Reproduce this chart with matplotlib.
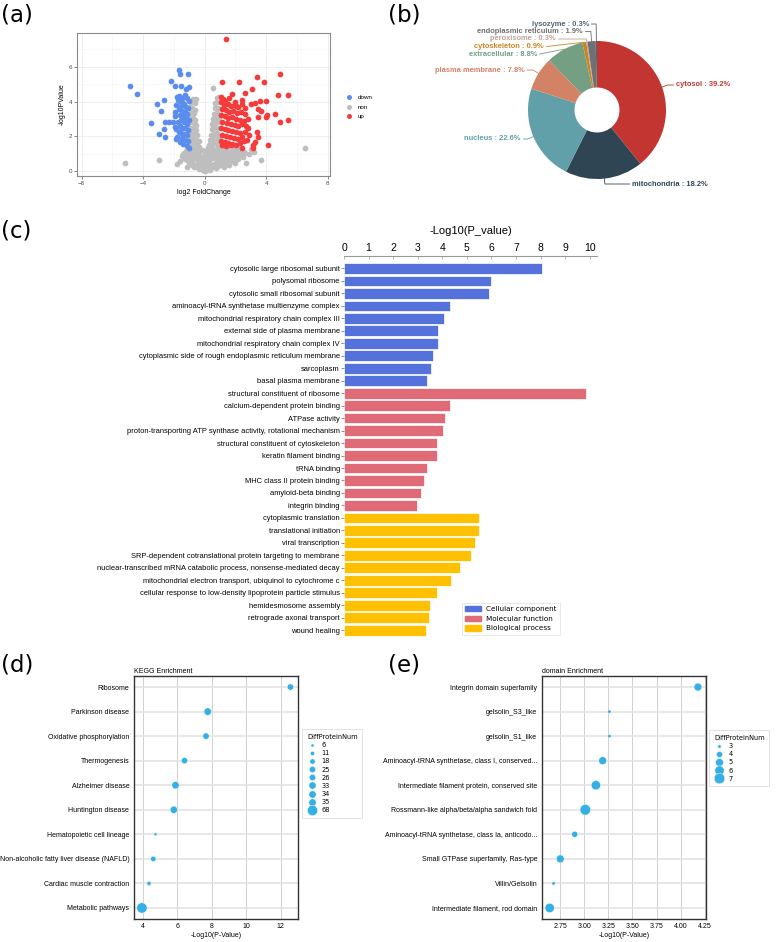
import numpy as np
import matplotlib
matplotlib.use("Agg")
import matplotlib.pyplot as plt
from matplotlib.lines import Line2D
from matplotlib.patches import Patch

plt.rcParams['font.family'] = ['Liberation Sans', 'DejaVu Sans']

# -------------------------
# (a) volcano data
# -------------------------
up_x = [1.41, 1.15, 2.26, 3.41, 3.89, 4.88, 3.06, 2.63, 1.80, 4.75, 5.40, 3.58, 3.97, 3.26, 3.04,
        2.45, 2.06, 3.49, 3.65, 4.06, 3.97, 4.58, 4.91, 5.40, 3.45, 2.84, 3.41, 3.49, 3.26, 3.13,
        4.12, 2.45, 3.15,
        1.05, 1.20, 1.35, 1.05, 1.25, 1.50, 1.70, 1.95, 2.20, 2.40, 1.10, 1.40, 1.60, 1.85, 2.10,
        2.35, 2.60, 1.05, 1.30, 1.55, 1.80, 2.05, 2.30, 2.55, 2.80, 1.15, 1.45, 1.70, 1.95, 2.20,
        2.45, 2.70, 1.05, 1.30, 1.55, 1.80, 2.05, 2.30, 2.60, 1.15, 1.40, 1.65, 1.90, 2.15, 2.40,
        1.05, 1.30, 1.55, 1.80, 2.05, 2.30, 2.55, 1.10, 1.40, 1.70, 2.75, 2.90, 2.00, 2.60, 1.60]
up_y = [7.59, 5.12, 5.10, 5.42, 5.12, 5.60, 4.72, 4.50, 4.43, 4.37, 4.37, 4.03, 4.04, 3.93, 3.83,
        4.08, 3.74, 3.57, 3.47, 3.24, 3.11, 3.26, 2.82, 2.93, 3.09, 2.45, 2.24, 1.94, 1.65, 1.51,
        1.48, 1.32, 1.34,
        4.25, 4.15, 4.05, 3.95, 3.80, 3.85, 3.75, 3.80, 3.70, 3.85, 3.55, 3.50, 3.40, 3.45, 3.35,
        3.40, 3.30, 3.20, 3.15, 3.05, 3.10, 3.00, 2.95, 2.90, 3.00, 2.85, 2.75, 2.70, 2.65, 2.60,
        2.70, 2.60, 2.50, 2.40, 2.35, 2.30, 2.25, 2.20, 2.25, 2.10, 2.00, 1.95, 1.90, 1.85, 1.95,
        1.75, 1.65, 1.60, 1.55, 1.50, 1.60, 1.70, 1.48, 1.46, 1.47, 1.80, 2.10, 4.00, 3.60, 4.20]

down_x = [-4.88, -4.38, -1.67, -1.58, -1.11, -2.21, -1.93, -1.54, -1.02, -1.22, -2.65, -3.10,
          -2.82, -3.47, -2.60, -2.32, -2.06, -2.63, -3.00, -2.56, -1.85, -1.87, -1.95,
          -1.80, -1.70, -1.60, -1.50, -1.75, -1.62, -1.45, -1.30, -1.15, -1.05, -1.85, -1.55,
          -1.35, -1.20, -1.08, -1.70, -1.48, -1.28, -1.12, -1.62, -1.90, -1.40, -1.22, -1.05,
          -1.55, -1.75, -1.35, -1.15, -1.60, -1.45, -1.25, -1.08, -1.70, -1.52, -1.32, -1.15,
          -1.45, -1.25, -1.08, -1.60, -1.38, -1.18, -1.05, -1.80, -1.95]
down_y = [4.87, 4.45, 5.81, 5.56, 5.56, 5.18, 4.91, 4.89, 4.81, 4.75, 4.08, 3.87,
          3.43, 2.78, 2.80, 2.82, 2.82, 2.43, 2.11, 1.94, 2.40, 1.84, 2.55,
          4.25, 4.30, 4.28, 4.20, 4.10, 4.05, 4.00, 4.35, 4.20, 4.05, 3.80, 3.75,
          3.85, 3.70, 3.60, 3.55, 3.45, 3.40, 3.30, 3.25, 3.15, 3.15, 3.05, 2.95,
          2.95, 2.85, 2.80, 2.70, 2.60, 2.50, 2.45, 2.35, 2.25, 2.20, 2.15, 2.05,
          1.90, 1.80, 1.70, 1.65, 1.55, 1.45, 1.35, 1.95, 3.40]

non_x = [0.00, 0.05, -0.08, 0.15, -0.20, 0.25, -0.30, 0.35, -0.40, 0.50, -0.55, 0.60, -0.70,
         0.75, -0.85, 0.90, -1.00, 1.10, -1.15, 1.25, 1.40, -1.30, 1.60, 1.80, 2.00, 2.20,
         -0.15, 0.10, 0.30, -0.45, 0.45, -0.60, 0.70, -0.80, 0.95, 1.20, 1.45, 1.70, 1.95,
         2.30, 2.50, 2.71, 2.89, 3.00, 3.20, 3.67, -0.25, 0.20, -0.50, 0.55, -0.70, 0.80,
         -0.95, 1.00, -1.02, -1.22, -1.40, -1.60, -1.80, 1.30, 1.55, 2.10, 2.40, 2.60,
         -5.17, -3.00, 6.53,
         -0.90, -0.70, -0.50, -0.35, -0.95, -0.75, -0.55, -0.40, -0.90, -0.70, -0.50, -0.95,
         -0.75, -0.55, -0.90, -0.70, -0.55, -0.95, -0.75, -0.60, -0.90, -0.70, -0.95, -0.80,
         -0.90, -0.76, -0.54, -0.65, -0.60,
         0.30, 0.50, 0.70, 0.90, 0.35, 0.55, 0.75, 0.95, 0.40, 0.60, 0.80, 0.45, 0.65, 0.85,
         0.50, 0.70, 0.90, 0.55, 0.75, 0.95, 0.60, 0.80, 0.65, 0.85, 0.70, 0.90, 0.80, 0.56,
         0.95, 0.20, 0.15, -0.20,
         -0.10, 0.10, -0.45, 0.40, -0.60, -0.30, 0.00, 0.30, 0.55, 0.80, 1.05, 1.35,
         -1.10, -0.85, -0.30, 0.00, 0.25, 0.80, 1.00, 1.25, 1.55, 1.75,
         -1.20, -0.95, -0.35, 0.00, 0.25, 0.60, 1.00, 1.35, 1.60, 1.90, 2.10,
         -1.10, -0.70, -0.40, 0.00, 0.40, 0.75, 1.00, 1.65, 2.15,
         -0.85, -0.45, 0.00, 0.35, 0.65, 0.90, 1.20, 1.50, 1.80, 2.00, 2.25,
         2.35, 2.55, 1.90, -1.35, -1.50, 0.45, -0.45, 0.85, -0.65]
non_y = [0.00, 0.15, 0.20, 0.10, 0.12, 0.30, 0.25, 0.05, 0.10, 0.20, 0.30, 0.40, 0.20,
         0.15, 0.35, 0.30, 0.50, 0.45, 0.20, 0.25, 0.55, 0.70, 0.35, 0.60, 0.45, 0.70,
         0.45, 0.50, 0.60, 0.55, 0.75, 0.75, 0.85, 0.90, 0.70, 0.90, 1.00, 0.85, 1.05,
         0.95, 0.82, 0.44, 0.98, 1.25, 1.07, 0.63, 0.80, 0.90, 1.00, 1.10, 1.20, 1.25,
         1.30, 1.35, 1.13, 1.17, 0.95, 0.60, 0.40, 1.30, 1.25, 1.30, 1.20, 1.05,
         0.48, 0.65, 1.30,
         1.60, 1.55, 1.50, 1.40, 1.90, 1.85, 1.80, 1.70, 2.20, 2.15, 2.05, 2.50,
         2.45, 2.35, 2.80, 2.75, 2.65, 3.10, 3.05, 2.95, 3.40, 3.35, 3.70, 3.65,
         4.00, 4.16, 4.12, 3.90, 3.50,
         1.50, 1.55, 1.60, 1.60, 1.80, 1.85, 1.90, 1.95, 2.10, 2.15, 2.20, 2.40, 2.45, 2.50,
         2.70, 2.75, 2.80, 3.00, 3.05, 3.10, 3.30, 3.35, 3.60, 3.65, 3.90, 3.95, 4.20, 4.77,
         4.25, 1.30, 1.10, 1.20,
         0.05, 0.05, 0.20, 0.20, 0.35, 0.35, 0.35, 0.35, 0.35, 0.35, 0.35, 0.35,
         0.55, 0.55, 0.55, 0.55, 0.55, 0.55, 0.55, 0.55, 0.55, 0.55,
         0.75, 0.75, 0.75, 0.75, 0.75, 0.75, 0.75, 0.75, 0.75, 0.75, 0.75,
         0.95, 0.95, 0.95, 0.95, 0.95, 0.95, 0.95, 0.95, 0.95,
         1.15, 1.15, 1.15, 1.15, 1.15, 1.15, 1.15, 1.15, 1.15, 1.15, 1.15,
         1.25, 1.10, 1.25, 1.05, 0.85, 1.40, 1.35, 1.45, 1.45]

# -------------------------
# (b) subcellular location
# -------------------------
loc_names = ['cytosol', 'mitochondria', 'nucleus', 'plasma membrane', 'extracellular',
             'cytoskeleton', 'peroxisome', 'endoplasmic reticulum', 'lysozyme']
loc_pct = [39.2, 18.2, 22.6, 7.8, 8.8, 0.9, 0.3, 1.9, 0.3]
loc_colors = ['#c23531', '#2f4554', '#61a0a8', '#d48265', '#749f83',
              '#ca8622', '#bda29a', '#6e7074', '#546570']

# -------------------------
# (c) GO enrichment
# -------------------------
cc_terms = ['cytosolic large ribosomal subunit', 'polysomal ribosome',
            'cytosolic small ribosomal subunit', 'aminoacyl-tRNA synthetase multienzyme complex',
            'mitochondrial respiratory chain complex III', 'external side of plasma membrane',
            'mitochondrial respiratory chain complex IV',
            'cytoplasmic side of rough endoplasmic reticulum membrane', 'sarcoplasm',
            'basal plasma membrane']
cc_vals = [8.08, 5.98, 5.92, 4.33, 4.06, 3.81, 3.81, 3.62, 3.54, 3.36]
mf_terms = ['structural constituent of ribosome', 'calcium-dependent protein binding',
            'ATPase activity', 'proton-transporting ATP synthase activity, rotational mechanism',
            'structural constituent of cytoskeleton', 'keratin filament binding', 'tRNA binding',
            'MHC class II protein binding', 'amyloid-beta binding', 'integrin binding']
mf_vals = [9.85, 4.31, 4.11, 4.04, 3.80, 3.77, 3.37, 3.25, 3.13, 2.97]
bp_terms = ['cytoplasmic translation', 'translational initiation', 'viral transcription',
            'SRP-dependent cotranslational protein targeting to membrane',
            'nuclear-transcribed mRNA catabolic process, nonsense-mediated decay',
            'mitochondrial electron transport, ubiquinol to cytochrome c',
            'cellular response to low-density lipoprotein particle stimulus',
            'hemidesmosome assembly', 'retrograde axonal transport', 'wound healing']
bp_vals = [5.48, 5.48, 5.32, 5.18, 4.73, 4.35, 3.80, 3.50, 3.47, 3.33]
go_groups = ['Cellular component', 'Molecular function', 'Biological process']
go_colors = ['#5572dc', '#e06a76', '#ffc000']

# -------------------------
# (d) KEGG, (e) domain
# -------------------------
kegg_terms = ['Ribosome', 'Parkinson disease', 'Oxidative phosphorylation', 'Thermogenesis',
              'Alzheimer disease', 'Huntington disease', 'Hematopoietic cell lineage',
              'Non-alcoholic fatty liver disease (NAFLD)', 'Cardiac muscle contraction',
              'Metabolic pathways']
kegg_val = [12.56, 7.76, 7.66, 6.41, 5.89, 5.79, 4.73, 4.60, 4.35, 3.94]
kegg_num = [25, 35, 26, 25, 34, 33, 6, 18, 11, 68]

dom_terms = ['Integrin domain superfamily', 'gelsolin_S3_like', 'gelsolin_S1_like',
             'Aminoacyl-tRNA synthetase, class I, conserved...',
             'Intermediate filament protein, conserved site',
             'Rossmann-like alpha/beta/alpha sandwich fold',
             'Aminoacyl-tRNA synthetase, class Ia, anticodo...',
             'Small GTPase superfamily, Ras-type', 'Villin/Gelsolin',
             'Intermediate filament, rod domain']
dom_val = [4.18, 3.26, 3.26, 3.19, 3.12, 3.01, 2.90, 2.75, 2.68, 2.64]
dom_num = [5, 3, 3, 5, 6, 7, 4, 5, 3, 6]

# -------------------------
# figure helpers
# -------------------------
W, H = 778, 942
fig = plt.figure(figsize=(W / 100, H / 100), dpi=100)


def box(l, t, r, b):
    return fig.add_axes([l / W, 1 - b / H, (r - l) / W, (b - t) / H])


def panel_label(x, y, s):
    fig.text(x / W, 1 - y / H, s, fontsize=16.5, family='DejaVu Sans', va='top', ha='left')


# -------------------------
# (a) volcano
# -------------------------
ax = box(77, 33, 330, 176)
ax.scatter(non_x, non_y, s=17, c='#bebebe', linewidths=0, zorder=2)
ax.scatter(down_x, down_y, s=17, c='#5b8def', linewidths=0, zorder=3)
ax.scatter(up_x, up_y, s=17, c='#f53b3b', linewidths=0, zorder=4)
ax.set_xlim(-8.3, 8.15)
ax.set_ylim(-0.29, 7.95)
ax.set_xticks([-8, -4, 0, 4, 8])
ax.set_xticks([-6, -2, 2, 6], minor=True)
ax.set_yticks([0, 2, 4, 6])
ax.set_yticks([1, 3, 5, 7], minor=True)
ax.grid(which='major', color='#ebebeb', lw=0.6)
ax.grid(which='minor', color='#f4f4f4', lw=0.4)
ax.set_axisbelow(True)
ax.tick_params(which='minor', length=0)
ax.tick_params(which='major', length=2, width=0.5, color='#555555', labelsize=4.5,
               labelcolor='#4d4d4d', pad=1.5)
for sp in ax.spines.values():
    sp.set_color('#8a8a8a')
    sp.set_linewidth(0.8)
ax.set_xlabel('log2 FoldChange', fontsize=5, labelpad=2)
ax.set_ylabel('-log10PValue', fontsize=5, labelpad=2)
hd = [Line2D([], [], ls='', marker='o', ms=3.6, mec='none', mfc=c)
      for c in ['#5b8def', '#bebebe', '#f53b3b']]
ax.legend(hd, ['down', 'non', 'up'], loc='center left', bbox_to_anchor=(346 / W, 1 - 107 / H),
          bbox_transform=fig.transFigure, frameon=False, fontsize=4.5, labelspacing=0.62,
          handlelength=1, handletextpad=0.8, borderpad=0, borderaxespad=0)
panel_label(1, 4, '(a)')

# -------------------------
# (b) donut
# -------------------------
cx, cy, R = 597.0, 110.0, 69.0
axb = box(400, 0, 778, 200)
axb.pie(loc_pct, colors=loc_colors, startangle=90, counterclock=False, radius=1,
        wedgeprops=dict(width=0.674, linewidth=0))
axb.set_aspect('auto')
axb.set_xlim((400 - cx) / R, (778 - cx) / R)
axb.set_ylim(-(200 - cy) / R, cy / R)
axb.axis('off')

# label anchor positions (px) and alignment
pie_label_px = [(676, 85, 'left'), (632, 184, 'left'), (521, 139, 'right'), (525, 70, 'right'),
                (537, 54, 'right'), (544, 46.5, 'right'), (556, 39, 'right'),
                (583, 31.5, 'right'), (589, 24, 'right')]
cum = 0.0
for name, pct, col, (lx, ly, ha) in zip(loc_names, loc_pct, loc_colors, pie_label_px):
    th = np.deg2rad(90 - 3.6 * (cum + pct / 2))
    cum += pct
    ex, ey = np.cos(th), np.sin(th)
    tx, ty = (lx - cx) / R, (cy - ly) / R
    gap = 2.5 / R
    endx = tx - gap if ha == 'left' else tx + gap
    t = (ty - ey) / np.sin(th) if abs(np.sin(th)) > 0.05 else -1
    if t > 0:
        xs = [ex, ex + t * np.cos(th), endx]
        ys = [ey, ty, ty]
    else:
        xs = [ex, endx]
        ys = [ey, ty]
    axb.plot(xs, ys, color=col, lw=0.6, clip_on=False)
    axb.text(tx, ty, f'{name} : {pct}%', color=col, fontsize=5.4, fontweight='bold',
             ha=ha, va='center')
panel_label(388, 4, '(b)')

# -------------------------
# (c) GO bar chart
# -------------------------
go_terms = cc_terms + mf_terms + bp_terms
go_vals = cc_vals + mf_vals + bp_vals
bar_cols = ([go_colors[0]] * len(cc_vals) + [go_colors[1]] * len(mf_vals)
            + [go_colors[2]] * len(bp_vals))
ypos = np.arange(len(go_terms))
axc = box(344, 256, 597, 637)
axc.barh(ypos, go_vals, height=0.86, color=bar_cols, edgecolor='white', linewidth=0.5)
axc.set_ylim(len(go_terms) - 0.45, -1.0)
axc.set_xlim(0, 10.3)
axc.xaxis.tick_top()
axc.xaxis.set_label_position('top')
axc.set_xticks(range(0, 11))
axc.set_xticklabels([str(i) for i in range(0, 11)], fontsize=7.5)
axc.set_yticks(ypos)
axc.set_yticklabels(go_terms, fontsize=5.4)
axc.set_xlabel('-Log10(P_value)', fontsize=8, labelpad=7)
for k in ['left', 'right', 'bottom']:
    axc.spines[k].set_visible(False)
axc.spines['top'].set_color('#999999')
axc.spines['top'].set_linewidth(0.8)
axc.tick_params(axis='x', direction='in', length=2, width=0.5, color='#999999', pad=2)
axc.tick_params(axis='y', length=2, width=0.5, color='#666666', pad=1)
leg_c = axc.legend([Patch(color=c) for c in go_colors], go_groups, loc='upper left',
                   bbox_to_anchor=(458 / W, 1 - 599 / H), bbox_transform=fig.transFigure,
                   prop={'family': 'DejaVu Sans', 'size': 5.2},
                   handlelength=2.2, handleheight=0.73, handletextpad=0.74, labelspacing=0.5,
                   borderpad=0.45, edgecolor='#dddddd', fancybox=False)
leg_c.get_frame().set_linewidth(0.6)
panel_label(1, 219, '(c)')


# -------------------------
# (d), (e) bubble charts
# -------------------------
def bubble(axx, vals, nums, terms, title, xlim, xticks, smin, smax, leg_px):
    nums = np.array(nums, dtype=float)
    lo, hi = nums.min(), nums.max()
    sz = smin + (nums - lo) / (hi - lo) * (smax - smin)
    yy = np.arange(len(terms))
    axx.scatter(vals, yy, s=sz, c='#35b0e4', edgecolors='white', linewidths=0.3, zorder=3)
    axx.set_ylim(len(terms) - 0.55, -0.45)
    axx.set_xlim(*xlim)
    axx.set_xticks(xticks)
    axx.set_yticks(yy)
    axx.set_yticklabels(terms, fontsize=5)
    axx.tick_params(length=0, labelsize=5, pad=3)
    axx.tick_params(axis='y', pad=3.4)
    axx.grid(axis='y', color='#e3e3e3', lw=1.2, zorder=0)
    axx.grid(axis='x', color='#c9c9c9', lw=0.6, zorder=0)
    axx.set_axisbelow(True)
    for sp in axx.spines.values():
        sp.set_color('#333333')
        sp.set_linewidth(1.0)
    axx.set_title(title, loc='left', fontsize=5, pad=2.5)
    axx.set_xlabel('-Log10(P-Value)', fontsize=5, labelpad=1)
    uniq = sorted(set(nums.tolist()))
    hs = [Line2D([], [], ls='', marker='o', mfc='#35b0e4', mec='white', mew=0.3,
                 ms=np.sqrt(smin + (u - lo) / (hi - lo) * (smax - smin))) for u in uniq]
    lg = axx.legend(hs, [str(int(u)) for u in uniq], title='DiffProteinNum', loc='upper left',
                    bbox_to_anchor=(leg_px[0] / W, 1 - leg_px[1] / H),
                    bbox_transform=fig.transFigure,
                    prop={'family': 'DejaVu Sans', 'size': 4.8},
                    title_fontproperties={'family': 'DejaVu Sans', 'size': 4.8},
                    labelspacing=0.32, handlelength=1.6, handletextpad=0.6, borderpad=0.7,
                    edgecolor='#dddddd', fancybox=False, framealpha=1)
    lg.get_frame().set_linewidth(0.6)
    lg._legend_box.align = 'left'


axd = box(134, 676, 298, 919)
bubble(axd, kegg_val, kegg_num, kegg_terms, 'KEGG Enrichment', (3.48, 13.0),
       [4, 6, 8, 10, 12], 5, 55, (299, 726))
panel_label(1, 654, '(d)')

axe = box(542, 676, 706, 919)
bubble(axe, dom_val, dom_num, dom_terms, 'domain Enrichment', (2.56, 4.264),
       [2.75, 3.0, 3.25, 3.5, 3.75, 4.0, 4.25], 6, 58, (706, 727))
axe.set_xticklabels(['2.75', '3.00', '3.25', '3.50', '3.75', '4.00', '4.25'])
panel_label(388, 654, '(e)')

fig.savefig('out.png', dpi=100)
